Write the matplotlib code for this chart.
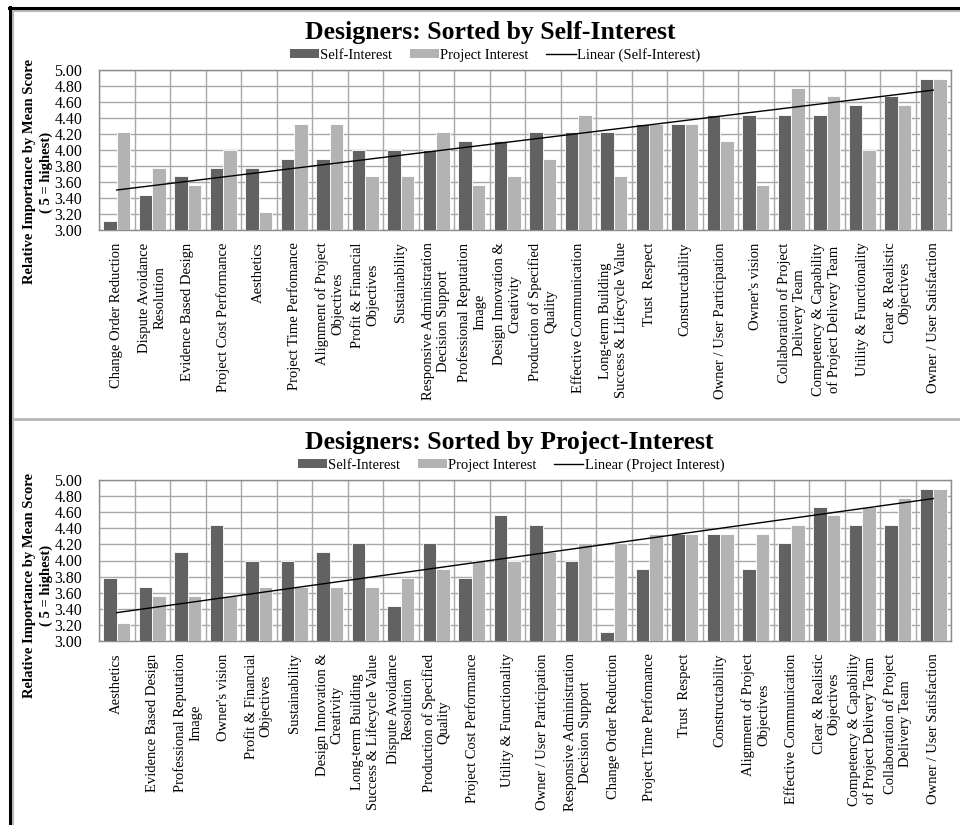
import matplotlib

matplotlib.use("Agg")

import matplotlib.pyplot as plt
import numpy as np
from matplotlib.lines import Line2D
from matplotlib.patches import Patch

# Factors in order of self-interest score
categories = [
    "Change Order Reduction",
    "Dispute Avoidance\nResolution",
    "Evidence Based Design",
    "Project Cost Performance",
    "Aesthetics",
    "Project Time Perfomance",
    "Alignment of Project\nObjectives",
    "Profit & Financial\nObjectives",
    "Sustainability",
    "Responsive Administration\nDecision Support",
    "Professional Reputation\nImage",
    "Design Innovation &\nCreativity",
    "Production of Specified\nQuality",
    "Effective Communication",
    "Long-term Building\nSuccess & Lifecycle Value",
    "Trust  Respect",
    "Constructability",
    "Owner / User Participation",
    "Owner's vision",
    "Collaboration of Project\nDelivery Team",
    "Competency & Capability\nof Project Delivery Team",
    "Utility & Functionality",
    "Clear & Realistic\nObjectives",
    "Owner / User Satisfaction",
]
self_interest = [3.11, 3.44, 3.67, 3.78, 3.78, 3.89, 3.89, 4.00, 4.00, 4.00, 4.11, 4.11,
                 4.22, 4.22, 4.22, 4.33, 4.33, 4.44, 4.44, 4.44, 4.44, 4.56, 4.67, 4.89]
project_interest = [4.22, 3.78, 3.56, 4.00, 3.22, 4.33, 4.33, 3.67, 3.67, 4.22, 3.56, 3.67,
                    3.89, 4.44, 3.67, 4.33, 4.33, 4.11, 3.56, 4.78, 4.67, 4.00, 4.56, 4.89]

# Same factors in order of project-interest score
project_order = [
    "Aesthetics",
    "Evidence Based Design",
    "Professional Reputation\nImage",
    "Owner's vision",
    "Profit & Financial\nObjectives",
    "Sustainability",
    "Design Innovation &\nCreativity",
    "Long-term Building\nSuccess & Lifecycle Value",
    "Dispute Avoidance\nResolution",
    "Production of Specified\nQuality",
    "Project Cost Performance",
    "Utility & Functionality",
    "Owner / User Participation",
    "Responsive Administration\nDecision Support",
    "Change Order Reduction",
    "Project Time Perfomance",
    "Trust  Respect",
    "Constructability",
    "Alignment of Project\nObjectives",
    "Effective Communication",
    "Clear & Realistic\nObjectives",
    "Competency & Capability\nof Project Delivery Team",
    "Collaboration of Project\nDelivery Team",
    "Owner / User Satisfaction",
]

y_ticks = [3.0, 3.2, 3.4, 3.6, 3.8, 4.0, 4.2, 4.4, 4.6, 4.8, 5.0]

DARK = "#626262"
LIGHT = "#b3b3b3"
GRID = "#a8a8a8"

plt.rcParams["font.family"] = ["Liberation Serif", "DejaVu Serif"]

W, H = 960, 825
fig = plt.figure(figsize=(W / 100, H / 100), dpi=100)


def box(x0, y0, x1, y1):
    # pixel box (top-left origin) -> figure fraction rect
    return (x0 / W, 1 - y1 / H, (x1 - x0) / W, (y1 - y0) / H)


def draw_chart(rect, labels, s_vals, p_vals, trend_vals, trend_name, title,
               title_x, title_y, legend_x, label_y):
    ax = fig.add_axes(rect)
    x = np.arange(1, len(labels) + 1)
    w = 0.38
    ax.bar(x - w / 2, s_vals, w, color=DARK, edgecolor="white", linewidth=0.6, zorder=3)
    ax.bar(x + w / 2, p_vals, w, color=LIGHT, edgecolor="white", linewidth=0.6, zorder=3)

    # linear trendline through the sorted series
    k, b = np.polyfit(x, trend_vals, 1)
    ax.plot(x, k * x + b, color="black", linewidth=1.0, zorder=4)

    ax.set_xlim(0.5, len(labels) + 0.5)
    ax.set_ylim(3.0, 5.0)
    ax.set_yticks(y_ticks)
    ax.set_yticklabels([f"{v:.2f}" for v in y_ticks], fontsize=11.5)
    ax.set_xticks(x)
    ax.set_xticklabels(labels, rotation=90, fontsize=10.5, ha="center", va="top",
                       multialignment="center", linespacing=1.2)
    ax.set_xticks(np.arange(0.5, len(labels) + 1), minor=True)
    ax.tick_params(axis="both", which="both", length=0)
    ax.tick_params(axis="x", pad=9)
    ax.tick_params(axis="y", pad=12)
    ax.grid(True, axis="y", which="major", color=GRID, linewidth=1.0, zorder=0)
    ax.grid(True, axis="x", which="minor", color=GRID, linewidth=1.0, zorder=0)
    ax.grid(False, axis="x", which="major")
    for sp in ax.spines.values():
        sp.set_color("#8c8c8c")
        sp.set_linewidth(1.0)

    fig.text(title_x / W, 1 - title_y / H, title, ha="center", va="center",
             fontsize=18.5, fontweight="bold")
    handles = [
        Patch(facecolor=DARK, edgecolor="none"),
        Patch(facecolor=LIGHT, edgecolor="none"),
        Line2D([], [], color="black", linewidth=1.0),
    ]
    ax.legend(handles, ["Self-Interest", "Project Interest", trend_name],
              loc="center", bbox_to_anchor=(legend_x / W, 1 - (title_y + 22) / H),
              bbox_transform=fig.transFigure, ncol=3, frameon=False, fontsize=10.5,
              handlelength=2.0, handleheight=0.6, handletextpad=0.1,
              columnspacing=1.2, borderpad=0)
    fig.text(38 / W, 1 - label_y / H,
             "Relative Importance by Mean Score\n( 5 = highest)",
             rotation=90, ha="center", va="center", fontsize=10.5,
             fontweight="bold", multialignment="center", linespacing=1.4)
    return ax


draw_chart(box(99, 70, 951, 230), categories, self_interest, project_interest,
           self_interest, "Linear (Self-Interest)",
           "Designers: Sorted by Self-Interest", 490, 33, 495, 172)

lookup = {c: i for i, c in enumerate(categories)}
order_idx = [lookup[c] for c in project_order]
self_sorted = [self_interest[i] for i in order_idx]
proj_sorted = [project_interest[i] for i in order_idx]
draw_chart(box(99, 480, 951, 641), project_order, self_sorted, proj_sorted,
           proj_sorted, "Linear (Project Interest)",
           "Designers: Sorted by Project-Interest", 509, 443, 511, 585)

# frames: outer black edge, inner grey chart borders
def hline(y, x0, x1, color, lw):
    fig.add_artist(Line2D([x0 / W, x1 / W], [1 - y / H, 1 - y / H],
                          transform=fig.transFigure, color=color, linewidth=lw))


def vline(x, y0, y1, color, lw):
    fig.add_artist(Line2D([x / W, x / W], [1 - y0 / H, 1 - y1 / H],
                          transform=fig.transFigure, color=color, linewidth=lw))


hline(10.5, 12, W, "#b8b8b8", 1.5)
vline(12.5, 10, H, "#b8b8b8", 1.5)
hline(418.5, 12, W, "#b8b8b8", 2.0)
hline(7.5, 9, W, "black", 2.2)
vline(10, 7, H, "black", 2.2)

fig.savefig("out.png", dpi=100)
